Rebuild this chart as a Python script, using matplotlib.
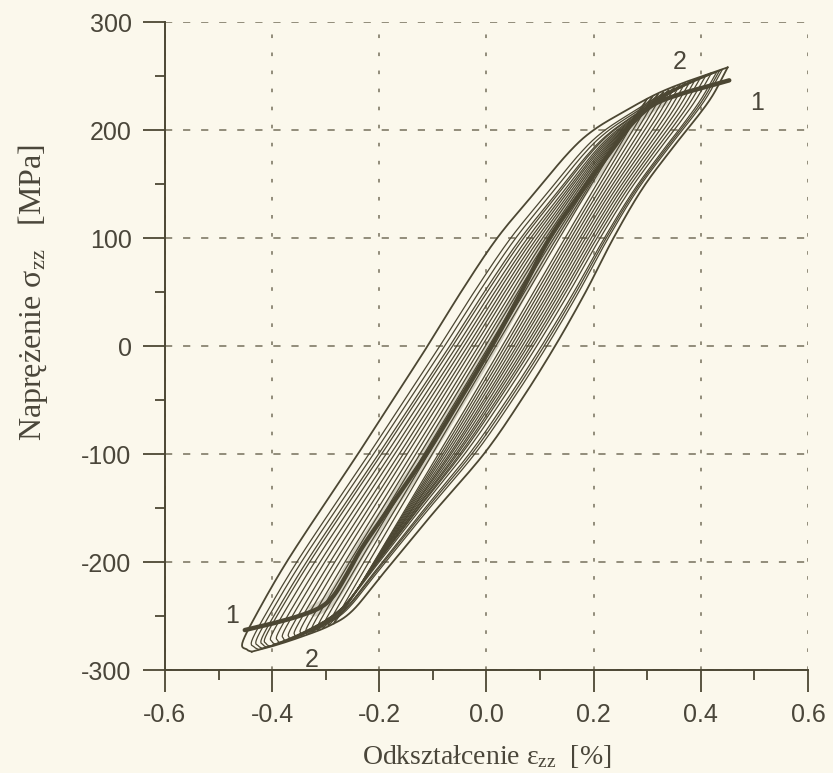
import numpy as np
import matplotlib.pyplot as plt

plt.rcParams['font.family'] = ['Liberation Sans', 'DejaVu Sans']
plt.rcParams['mathtext.fontset'] = 'custom'
plt.rcParams['mathtext.rm'] = 'Liberation Serif'
plt.rcParams['mathtext.it'] = 'Liberation Serif:italic'
plt.rcParams['axes.unicode_minus'] = False

# curve 2 - outer loop, left branch (top tip -> bottom)
c2_left_strain = [0.45, 0.38, 0.32, 0.26, 0.20, 0.155, 0.09, 0.02, -0.045, -0.11,
                  -0.175, -0.24, -0.31, -0.373, -0.42, -0.455, -0.447, -0.438]
c2_left_stress = [258, 246, 234, 218, 200, 180, 142, 100, 52, 0,
                  -50, -100, -152, -200, -240, -274, -281, -283]

# curve 2 - outer loop, right branch (bottom tip -> top)
c2_right_strain = [-0.438, -0.40, -0.35, -0.293, -0.25, -0.195, -0.10, -0.005, 0.065, 0.128,
                   0.185, 0.237, 0.29, 0.345, 0.39, 0.422, 0.45]
c2_right_stress = [-283, -278, -270, -259, -245, -212, -155, -100, -50, 0,
                   50, 100, 145, 182, 210, 232, 258]

# curve 1 - cyclic curve
c1_strain = [-0.451, -0.40, -0.35, -0.31, -0.285, -0.26, -0.23, -0.17, -0.112, -0.05,
             0.01, 0.065, 0.118, 0.18, 0.235, 0.27, 0.31, 0.36, 0.41, 0.453]
c1_stress = [-263, -257, -250, -242, -231, -211, -185, -142, -100, -50,
             0, 50, 100, 145, 182, 205, 223, 233, 240, 246]

# intermediate cycles: tips and loop width relative to curve 2
top_tip_strain = [0.30, 0.31, 0.32, 0.33, 0.34, 0.35, 0.36, 0.37,
                  0.38, 0.39, 0.40, 0.41, 0.42, 0.43, 0.435, 0.44]
top_tip_stress = [229, 231, 233, 235, 237, 239, 241, 243,
                  245, 247, 249, 251, 253, 254, 255, 256]
bot_tip_strain = [-0.285, -0.295, -0.305, -0.315, -0.325, -0.335, -0.345, -0.355,
                  -0.365, -0.375, -0.385, -0.395, -0.405, -0.41, -0.418, -0.425]
bot_tip_stress = [-257, -259, -261, -263, -265, -267, -268, -270,
                  -272, -273, -275, -276, -278, -279, -280, -281]
loop_width = [0.05, 0.10, 0.15, 0.20, 0.25, 0.30, 0.35, 0.40,
              0.45, 0.50, 0.55, 0.60, 0.66, 0.72, 0.78, 0.84]

bg = '#fbf8ec'
ink = '#4c4733'
txt = '#4a463a'


def smooth(x, y, n=16):
    # Catmull-Rom through the given points
    p = np.column_stack([x, y]).astype(float)
    p = np.vstack([2 * p[0] - p[1], p, 2 * p[-1] - p[-2]])
    s = np.linspace(0, 1, n, endpoint=False)[:, None]
    out = []
    for i in range(1, len(p) - 2):
        p0, p1, p2, p3 = p[i - 1], p[i], p[i + 1], p[i + 2]
        out.append(0.5 * (2 * p1 + (p2 - p0) * s
                          + (2 * p0 - 5 * p1 + 4 * p2 - p3) * s ** 2
                          + (3 * p1 - p0 - 3 * p2 + p3) * s ** 3))
    out.append(p[-2][None])
    o = np.vstack(out)
    return o[:, 0], o[:, 1]


fig = plt.figure(figsize=(8.33, 7.73), dpi=100, facecolor=bg)
ax = fig.add_axes([0.198, 0.1332, 0.772, 0.8383], facecolor=bg)

lx, ly = smooth(c2_left_strain, c2_left_stress)
rx, ry = smooth(c2_right_strain, c2_right_stress)
cx, cy = smooth(c1_strain, c1_stress)

# branch shape of curve 2 as offset from its chord, vs. relative stress
t = np.linspace(0, 1, 400)
s_top, s_bot = c2_left_stress[0], c2_right_stress[0]
e_top, e_bot = c2_left_strain[0], c2_right_strain[0]
sig = s_bot + t * (s_top - s_bot)
chord = e_bot + t * (e_top - e_bot)
o = np.argsort(ly)
left = np.interp(sig, ly[o], lx[o])
o = np.argsort(ry)
right = np.interp(sig, ry[o], rx[o])
dev_left = left - chord
dev_right = right - chord

for et, st, eb, sb, w in zip(top_tip_strain, top_tip_stress,
                             bot_tip_strain, bot_tip_stress, loop_width):
    s = sb + t * (st - sb)
    c = eb + t * (et - eb)
    ax.plot(c + w * dev_left, s, color=ink, lw=0.9)
    ax.plot(c + w * dev_right, s, color=ink, lw=0.9)

ax.plot(lx, ly, color=ink, lw=1.3)
ax.plot(rx, ry, color=ink, lw=1.3)

# dense overlap of the cycles along curve 1
mid = (cy > -245) & (cy < 228)
ax.plot(cx[mid], cy[mid], color=ink, lw=9, alpha=0.22, solid_capstyle='round')
ax.plot(cx, cy, color=ink, lw=3.2, solid_capstyle='round')

ax.text(-0.474, -250, '1', fontsize=18, color=txt, ha='center', va='center')
ax.text(0.504, 225, '1', fontsize=18, color=txt, ha='center', va='center')
ax.text(-0.326, -291, '2', fontsize=18, color=txt, ha='center', va='center')
ax.text(0.36, 263, '2', fontsize=18, color=txt, ha='center', va='center')

ax.set_xlim(-0.6, 0.6)
ax.set_ylim(-300, 300)
ax.set_xticks(np.arange(-0.6, 0.61, 0.2))
ax.set_xticks(np.arange(-0.5, 0.6, 0.2), minor=True)
ax.set_yticks(np.arange(-300, 301, 100))
ax.set_yticks(np.arange(-250, 300, 100), minor=True)
ax.set_xticklabels([f'{v:.1f}' for v in np.arange(-0.6, 0.61, 0.2)])

for side in ['top', 'right']:
    ax.spines[side].set_visible(False)
for side in ['left', 'bottom']:
    ax.spines[side].set_color(ink)
    ax.spines[side].set_linewidth(1.4)

ax.tick_params(which='major', direction='out', length=16, width=1.3,
               pad=8, labelsize=18, colors=ink, labelcolor=txt)
ax.tick_params(which='minor', direction='out', length=7, width=1.3, colors=ink)

ax.set_axisbelow(True)
ax.xaxis.grid(True, color='#8a8472', linestyle=(0, (2, 8)), lw=1.3)
ax.yaxis.grid(True, color='#8a8472', linestyle=(0, (4, 6)), lw=1.3)

fig.text(487 / 833, 1 - 757 / 773, 'Odkształcenie ε$_{\\mathrm{zz}}$  [%]',
         family='Liberation Serif', fontsize=20, color=txt, ha='center', va='center')
fig.text(33 / 833, 1 - 292 / 773, 'Naprężenie σ$_{\\mathrm{zz}}$   [MPa]',
         family='Liberation Serif', fontsize=23, color=txt, ha='center', va='center',
         rotation=90)

fig.savefig('out.png', dpi=100, facecolor=bg)
